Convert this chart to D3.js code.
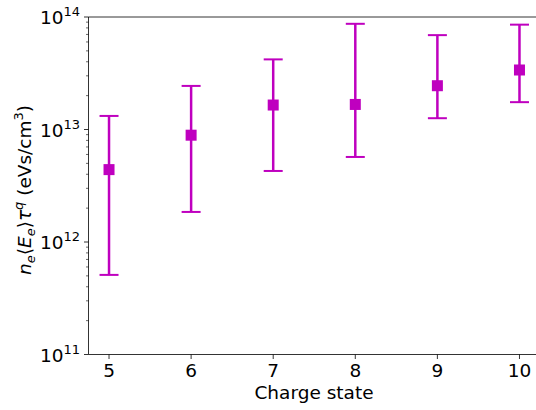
<!DOCTYPE html>
<html>
<head>
<meta charset="utf-8">
<script src="https://cdn.jsdelivr.net/npm/d3@7"></script>
<style>
  body { margin: 0; background: #fff; }
  text { font-family: "DejaVu Sans", sans-serif; fill: #000; }
</style>
</head>
<body>
<div id="chart"></div>
<script>
// charge states and measured values (eVs/cm^3)
var charges = [5, 6, 7, 8, 9, 10]
var values = [4.4e12, 8.9e12, 1.65e13, 1.67e13, 2.45e13, 3.38e13]
var upper = [1.32e13, 2.44e13, 4.2e13, 8.7e13, 6.9e13, 8.55e13]
var lower = [5.1e11, 1.85e12, 4.28e12, 5.7e12, 1.26e13, 1.75e13]
var yDecades = [11, 12, 13, 14]

var w = 536
var h = 410
var color = '#bf00bf'
var fs = '18.5px'
var fsSmall = '13px'

var svg = d3.select('#chart')
  .append('svg')
  .attr('width', w)
  .attr('height', h)

var x = d3.scaleLinear().domain([4.75, 10.25]).range([88.5, 540])
var y = d3.scaleLog().domain([1e11, 1e14]).range([354.5, 17])

// minor ticks
var minor = []
for (let p = 11; p < 14; p++) {
  for (let k = 2; k < 10; k++) minor.push(k * Math.pow(10, p))
}
svg.selectAll('.minor')
  .data(minor)
  .enter()
  .append('line')
  .attr('x1', 88.5 - 2.5).attr('x2', 88.5)
  .attr('y1', d => y(d)).attr('y2', d => y(d))
  .attr('stroke', '#000').attr('stroke-width', 0.6)

// major y ticks
svg.selectAll('.ymajor')
  .data(yDecades)
  .enter()
  .append('line')
  .attr('x1', 88.5 - 4.5).attr('x2', 88.5)
  .attr('y1', d => y(Math.pow(10, d))).attr('y2', d => y(Math.pow(10, d)))
  .attr('stroke', '#000').attr('stroke-width', 0.8)

var ylab = svg.selectAll('.ylab')
  .data(yDecades)
  .enter()
  .append('text')
  .attr('x', 80)
  .attr('y', d => y(Math.pow(10, d)) + 7)
  .attr('text-anchor', 'end')
  .style('font-size', fs)
ylab.append('tspan').text('10')
ylab.append('tspan')
  .attr('dy', -8)
  .style('font-size', fsSmall)
  .text(d => d)

// x ticks
svg.selectAll('.xtick')
  .data(charges)
  .enter()
  .append('line')
  .attr('x1', d => x(d)).attr('x2', d => x(d))
  .attr('y1', 354.5).attr('y2', 354.5 + 4.5)
  .attr('stroke', '#000').attr('stroke-width', 0.8)

svg.selectAll('.xlab')
  .data(charges)
  .enter()
  .append('text')
  .attr('x', d => x(d))
  .attr('y', 377)
  .attr('text-anchor', 'middle')
  .style('font-size', fs)
  .text(d => d)

// spines
svg.append('line').attr('x1', 88.5).attr('x2', 88.5).attr('y1', 17).attr('y2', 354.5)
  .attr('stroke', '#000').attr('stroke-width', 0.8)
svg.append('line').attr('x1', 88.5).attr('x2', w).attr('y1', 354.5).attr('y2', 354.5)
  .attr('stroke', '#000').attr('stroke-width', 0.8)
svg.append('line').attr('x1', 88.5).attr('x2', w).attr('y1', 17).attr('y2', 17)
  .attr('stroke', '#000').attr('stroke-width', 0.8)

// error bars
var idx = d3.range(charges.length)
svg.selectAll('.err')
  .data(idx)
  .enter()
  .append('line')
  .attr('x1', i => x(charges[i])).attr('x2', i => x(charges[i]))
  .attr('y1', i => y(lower[i])).attr('y2', i => y(upper[i]))
  .attr('stroke', color).attr('stroke-width', 2.5)

var caps = lower.map((v, i) => [i, v]).concat(upper.map((v, i) => [i, v]))
svg.selectAll('.cap')
  .data(caps)
  .enter()
  .append('line')
  .attr('x1', d => x(charges[d[0]]) - 9.5).attr('x2', d => x(charges[d[0]]) + 9.5)
  .attr('y1', d => y(d[1])).attr('y2', d => y(d[1]))
  .attr('stroke', color).attr('stroke-width', 2)

svg.selectAll('.pt')
  .data(idx)
  .enter()
  .append('rect')
  .attr('x', i => x(charges[i]) - 5.5)
  .attr('y', i => y(values[i]) - 5.5)
  .attr('width', 11).attr('height', 11)
  .attr('fill', color)

// axis labels
svg.append('text')
  .attr('x', 314)
  .attr('y', 399)
  .attr('text-anchor', 'middle')
  .style('font-size', fs)
  .text('Charge state')

var yl = svg.append('text')
  .attr('transform', 'translate(31,190) rotate(-90)')
  .attr('text-anchor', 'middle')
  .style('font-size', fs)
yl.append('tspan').style('font-style', 'italic').text('n')
yl.append('tspan').attr('dy', 4).style('font-size', fsSmall).style('font-style', 'italic').text('e')
yl.append('tspan').attr('dy', -4).text('⟨')
yl.append('tspan').style('font-style', 'italic').text('E')
yl.append('tspan').attr('dy', 4).style('font-size', fsSmall).style('font-style', 'italic').text('e')
yl.append('tspan').attr('dy', -4).text('⟩')
yl.append('tspan').style('font-style', 'italic').text('τ')
yl.append('tspan').attr('dy', -8).style('font-size', fsSmall).style('font-style', 'italic').text('q')
yl.append('tspan').attr('dy', 8).text(' (eVs/cm')
yl.append('tspan').attr('dy', -8).style('font-size', fsSmall).text('3')
yl.append('tspan').attr('dy', 8).text(')')
</script>
</body>
</html>
